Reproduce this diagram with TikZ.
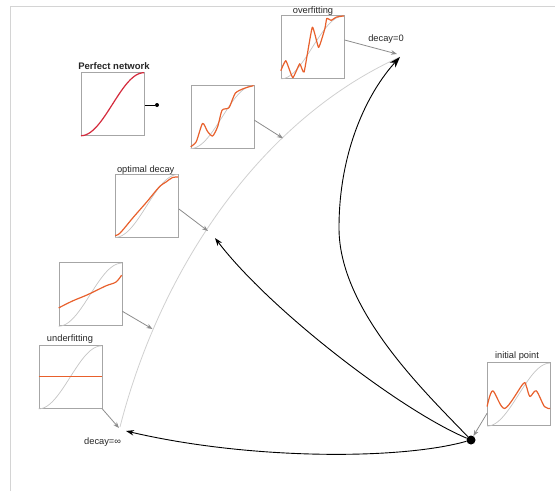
\documentclass[tikz,border=0pt]{standalone}
\usepackage{fontspec}
\setmainfont{Liberation Sans}
\usetikzlibrary{arrows.meta}
\definecolor{fitc}{HTML}{E8602C}
\definecolor{perfc}{HTML}{D42A3C}
\definecolor{idealc}{HTML}{C4C4C4}
\definecolor{boxc}{HTML}{A6A6A6}
\definecolor{garc}{HTML}{8C8C8C}
\definecolor{arcc}{HTML}{D0D0D0}
\definecolor{framec}{HTML}{D4D4D4}
\newcommand\idealcurve{\draw[ideal] plot[domain=0:1,samples=50,variable=\t] ({\t},{0.5-0.5*cos(180*\t)});}
\begin{document}
\begin{tikzpicture}[x=1pt,y=-1pt,
  box/.style={draw=boxc, line width=0.8pt, minimum width=63pt, minimum height=63pt, inner sep=0pt},
  lab/.style={font=\fontsize{9.3}{10}\selectfont, inner sep=0pt, text=black!85},
  ideal/.style={draw=idealc, line width=0.7pt},
  fitline/.style={draw=fitc, line width=1.2pt, line join=round},
  garrow/.style={draw=garc, line width=0.8pt, -{Stealth[length=6pt,width=4.5pt]}},
  barrow/.style={draw=black, line width=0.9pt, -{Stealth[length=8pt,width=5.5pt]}}]
\useasboundingbox (0,0) rectangle (555,491);
\draw[framec, line width=0.8pt] (10.6,491) -- (10.6,6) -- (555,6);

% boxes
\node[box] (over) at (312.7,47) {};
\node[box] (perf) at (112.9,103.8) {};
\node[box] (mid) at (222.5,116.7) {};
\node[box] (opt) at (147,205.5) {};
\node[box] (b4) at (90.5,294.3) {};
\node[box] (under) at (70.4,377) {};
\node[box] (init) at (519,394.2) {};

% labels
\node[lab] (lover) at (313,11) {overfitting};
\node[lab, font=\fontsize{9.5}{10}\selectfont\bfseries] (lperf) at (114,65.7) {Perfect network};
\node[lab] (lopt) at (145.7,170) {optimal decay};
\node[lab] (lunder) at (70,339.3) {underfitting};
\node[lab] (linit) at (517,356) {initial point};
\node[lab] (ldz) at (386,39) {decay=0};
\node[lab] (ldinf) at (102.6,441.7) {decay=∞};

% curves inside boxes
\begin{scope}[shift={(over.south west)}, x=63pt, y=63pt]
  \idealcurve
  \draw[fitline] plot[smooth, tension=0.25] coordinates {(0,0.13) (0.08,0.29) (0.19,0.02) (0.3,0.24) (0.37,0.11) (0.5,0.82) (0.6,0.5) (0.7,0.8) (0.73,0.96) (0.8,0.93) (0.88,0.98) (1,1)};
\end{scope}
\begin{scope}[shift={(perf.south west)}, x=63pt, y=63pt]
  \draw[draw=perfc, line width=1.2pt] plot[domain=0:1,samples=50,variable=\t] ({\t},{0.5-0.5*cos(180*\t)});
\end{scope}
\begin{scope}[shift={(mid.south west)}, x=63pt, y=63pt]
  \idealcurve
  \draw[fitline] plot[smooth, tension=0.4] coordinates {(0,0.03) (0.09,0.11) (0.19,0.4) (0.27,0.27) (0.35,0.2) (0.43,0.35) (0.5,0.61) (0.61,0.65) (0.71,0.88) (0.86,0.96) (1,1)};
\end{scope}
\begin{scope}[shift={(opt.south west)}, x=63pt, y=63pt]
  \idealcurve
  \draw[fitline] plot[smooth, tension=0.5] coordinates {(0,0.03) (0.08,0.07) (0.29,0.32) (0.5,0.56) (0.7,0.8) (0.81,0.88) (0.91,0.95) (1,0.96)};
\end{scope}
\begin{scope}[shift={(b4.south west)}, x=63pt, y=63pt]
  \idealcurve
  \draw[fitline] plot[smooth, tension=0.5] coordinates {(0,0.29) (0.22,0.4) (0.46,0.5) (0.75,0.64) (0.91,0.7) (1,0.81)};
\end{scope}
\begin{scope}[shift={(under.south west)}, x=63pt, y=63pt]
  \idealcurve
  \draw[fitline] plot coordinates {(0,0.515) (0.5,0.515) (1,0.515)};
\end{scope}
\begin{scope}[shift={(init.south west)}, x=63pt, y=63pt]
  \idealcurve
  \draw[fitline] plot[smooth, tension=0.5] coordinates {(0,0.31) (0.09,0.56) (0.28,0.28) (0.57,0.67) (0.62,0.64) (0.68,0.47) (0.78,0.56) (0.91,0.31) (1,0.28)};
\end{scope}

% key points
\coordinate (dz) at (400,57);
\coordinate (dinf) at (120,427);
\coordinate (a1) at (283,138.3);
\coordinate (a2) at (208,231);
\coordinate (a3) at (152.5,329);
\coordinate (tip1) at (126,431);
\coordinate (tip2) at (215,238);
\coordinate (mid3) at (339,228);
\node[circle, fill=black, inner sep=0pt, minimum size=9pt] (start) at (471,440) {};
\node[circle, fill=black, inner sep=0pt, minimum size=4pt] (pdot) at (157,105) {};

% gray arc
\draw[arcc, line width=0.8pt] (dinf) .. controls (160,270) and (260,120) .. (dz);

% gray arrows
\draw[garrow] ([yshift=7pt]over.east) -- ([xshift=-3pt,yshift=3pt]dz);
\draw[garrow] ([yshift=-3.5pt]mid.east) -- (a1);
\draw[garrow] ([yshift=-3.5pt]opt.east) -- (a2);
\draw[garrow] ([yshift=-17pt]b4.east) -- (a3);
\draw[garrow] (under.south east) -- ([xshift=-1pt,yshift=-1pt]dinf);
\draw[garrow] ([yshift=-19pt]init.west) -- (start);
\draw[black, line width=0.8pt] (perf.east |- pdot) -- (pdot);

% black arrows
\draw[barrow] (start) .. controls (400,460) and (250,460) .. (tip1);
\draw[barrow] (start) .. controls (400,410) and (270,310) .. (tip2);
\draw[black, line width=0.9pt, -{Stealth[length=11pt,width=7.5pt]}] (start) .. controls (425,392) and (339,310) .. (mid3) .. controls (339,150) and (368,92) .. (dz);
\end{tikzpicture}
\end{document}
